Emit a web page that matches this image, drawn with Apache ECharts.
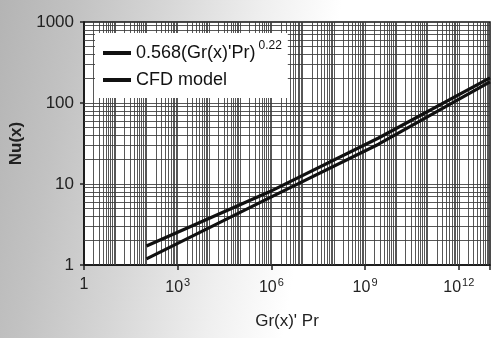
<!DOCTYPE html>
<html>
<head>
<meta charset="utf-8">
<script src="https://cdn.jsdelivr.net/npm/echarts@6/dist/echarts.min.js"></script>
<style>
html,body{margin:0;padding:0;}
body{width:493px;height:338px;overflow:hidden;
background:linear-gradient(100deg,#b4b4b4 0%,#c2c2c2 14%,#d6d6d6 30%,#efefef 48%,#ffffff 62%);}
#c{width:493px;height:338px;}
</style>
</head>
<body>
<div id="c"></div>
<script>
// Data
var xValues = [1e2, 8.3e5, 2.7e9, 1e13];
var correlationValues = [1.72, 7.95, 37, 204];
var cfdValues = [1.19, 6.7, 31, 182];
var seriesNames = ["0.568(Gr(x)'Pr)", "CFD model"];
var xTickExponents = [0, 3, 6, 9, 12];
var yTickLabels = ["1", "10", "100", "1000"];

var xDecades = 13, yDecades = 3;

function pairs(xs, ys){ return xs.map(function(x,i){return [x, ys[i]];}); }

var gridLines = [];
for (var k = 0; k < xDecades; k++) {
  for (var m = 1; m <= 9; m++) {
    if (k === 0 && m === 1) continue;
    gridLines.push({xAxis: m * Math.pow(10, k)});
  }
}
for (var j = 0; j < yDecades; j++) {
  for (var n = 1; n <= 9; n++) {
    if (j === 0 && n === 1) continue;
    gridLines.push({yAxis: n * Math.pow(10, j)});
  }
}

var font = "'Liberation Sans', Arial, sans-serif";
var chart = echarts.init(document.getElementById('c'), null, {renderer: 'canvas'});
chart.setOption({
  animation: false,
  backgroundColor: 'transparent',
  grid: {left: 84, right: 0, top: 22, bottom: 73, show: true, backgroundColor: '#ffffff', borderColor: '#111', borderWidth: 1.5},
  legend: {
    z: 20, left: 95, top: 33, orient: 'vertical', itemGap: 9,
    backgroundColor: '#ffffff', padding: [7, 6, 9, 8],
    icon: 'rect', itemWidth: 28, itemHeight: 4,
    data: seriesNames,
    formatter: function(name){ return name === seriesNames[0] ? name + '{sup|0.22}' : name; },
    textStyle: {fontFamily: font, fontSize: 18, color: '#111',
      rich: {sup: {fontFamily: font, fontSize: 12, color: '#111', verticalAlign: 'bottom', padding: [0,0,14,3]}}}
  },
  xAxis: {
    type: 'log', min: 1, max: Math.pow(10, xDecades), interval: 3,
    name: "Gr(x)' Pr", nameLocation: 'middle', nameGap: 48,
    nameTextStyle: {fontFamily: font, fontSize: 17, color: '#222'},
    axisLine: {show: true, lineStyle: {color: '#111', width: 1.5}},
    axisTick: {show: true, length: 5, lineStyle: {color: '#222', width: 1.5}},
    splitLine: {show: false},
    axisLabel: {
      margin: 12, fontFamily: font, fontSize: 16, color: '#222',
      formatter: function(v){
        var e = Math.round(Math.log10(v));
        if (xTickExponents.indexOf(e) < 0) return '';
        return e === 0 ? '1' : '10{sup|' + e + '}';
      },
      rich: {sup: {fontFamily: font, fontSize: 11, color: '#222', verticalAlign: 'bottom', padding: [0,0,11,1]}}
    }
  },
  yAxis: {
    type: 'log', min: 1, max: Math.pow(10, yDecades), interval: 1,
    name: 'Nu(x)', nameLocation: 'middle', nameGap: 48, nameRotate: 90,
    nameTextStyle: {fontFamily: font, fontSize: 17, fontWeight: 'bold', color: '#222'},
    axisLine: {show: true, lineStyle: {color: '#111', width: 1.5}},
    axisTick: {show: true, inside: false, length: 4, lineStyle: {color: '#222', width: 1.5}},
    splitLine: {show: false},
    axisLabel: {
      margin: 10, fontFamily: font, fontSize: 17, color: '#222',
      formatter: function(v){
        var e = Math.round(Math.log10(v));
        return yTickLabels[e] !== undefined ? yTickLabels[e] : '';
      }
    }
  },
  series: [
    {
      type: 'line', name: 'grid', data: [], z: 1, silent: true,
      markLine: {silent: true, symbol: 'none', label: {show: false}, animation: false, z: 1,
        lineStyle: {color: '#3a3a3a', width: 1, type: 'solid', opacity: 0.85},
        data: gridLines}
    },
    {
      type: 'line', name: seriesNames[0], data: pairs(xValues, correlationValues),
      showSymbol: false, symbol: 'none', z: 3,
      lineStyle: {color: '#111', width: 3.2}, itemStyle: {color: '#111'}
    },
    {
      type: 'line', name: seriesNames[1], data: pairs(xValues, cfdValues),
      showSymbol: false, symbol: 'none', z: 3,
      lineStyle: {color: '#111', width: 3.2}, itemStyle: {color: '#111'}
    }
  ]
});
</script>
</body>
</html>
